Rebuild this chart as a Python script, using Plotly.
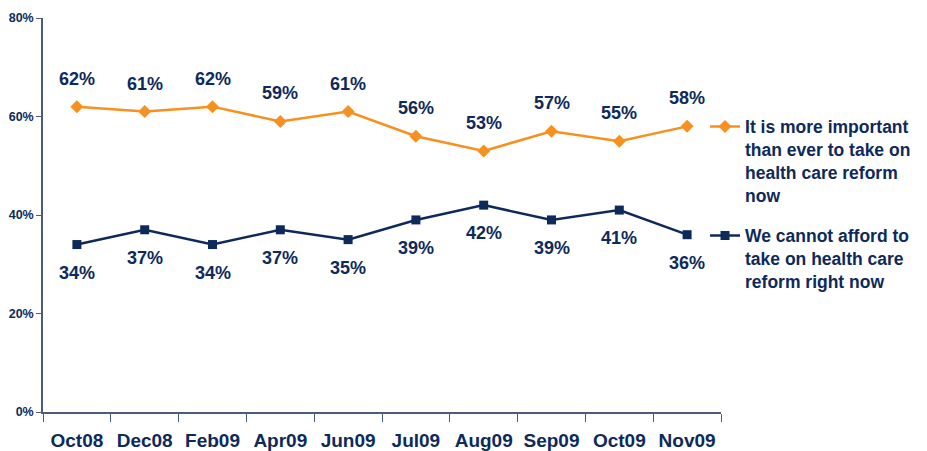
import plotly.graph_objects as go

months = ["Oct08", "Dec08", "Feb09", "Apr09", "Jun09", "Jul09", "Aug09", "Sep09", "Oct09", "Nov09"]
important = [62, 61, 62, 59, 61, 56, 53, 57, 55, 58]
cannot_afford = [34, 37, 34, 37, 35, 39, 42, 39, 41, 36]
y_ticks = [0, 20, 40, 60, 80]
y_tick_labels = ["0%", "20%", "40%", "60%", "80%"]
name_important = "It is more important<br>than ever to take on<br>health care reform<br>now"
name_cannot = "We cannot afford to<br>take on health care<br>reform right now"

ORANGE = "#F7901E"
NAVY = "#0D2A5B"
FONT = "Liberation Sans, Arial, sans-serif"

fig = go.Figure()
fig.add_trace(go.Scatter(
    x=months, y=important, mode="lines+markers", name=f"<b>{name_important}</b>",
    legendgroup="a",
    line=dict(color=ORANGE, width=2.5),
    marker=dict(symbol="diamond", size=10, color=ORANGE),
))
fig.add_trace(go.Scatter(
    x=months, y=cannot_afford, mode="lines+markers", name=f"<b>{name_cannot}</b>",
    legendgroup="b",
    line=dict(color=NAVY, width=2.5),
    marker=dict(symbol="square", size=9, color=NAVY),
))

annots = []
for m, v in zip(months, important):
    annots.append(dict(x=m, y=v, text=f"<b>{v}%</b>", showarrow=False, yshift=28,
                       font=dict(size=18, color=NAVY, family=FONT)))
for m, v in zip(months, cannot_afford):
    annots.append(dict(x=m, y=v, text=f"<b>{v}%</b>", showarrow=False, yshift=-28,
                       font=dict(size=18, color=NAVY, family=FONT)))

fig.update_layout(
    width=927, height=451,
    margin=dict(l=43, r=205, t=18, b=39),
    paper_bgcolor="white", plot_bgcolor="white",
    font=dict(family=FONT, color=NAVY),
    annotations=annots,
    showlegend=True,
    legend=dict(
        x=0.975, y=0.77, xanchor="left", yanchor="top",
        font=dict(size=17.5, color=NAVY, family=FONT),
        valign="top", tracegroupgap=15, itemwidth=30,
        bgcolor="rgba(0,0,0,0)",
    ),
    xaxis=dict(
        type="category", categoryorder="array", categoryarray=months,
        showline=True, linecolor="#4D5C78", linewidth=1.5,
        ticks="outside", tickson="boundaries", ticklen=8, tickcolor="#4D5C78",
        tickfont=dict(size=19, color=NAVY, family=FONT),
        tickprefix="<b>", ticksuffix="</b>",
        ticklabelstandoff=10, automargin=False,
        showgrid=False, range=[-0.5, 9.5],
    ),
    yaxis=dict(
        range=[0, 80], tickvals=y_ticks, ticktext=[f"<b>{t}</b>" for t in y_tick_labels],
        showline=True, linecolor="#4D5C78", linewidth=1.5,
        ticks="outside", ticklen=5, tickcolor="#4D5C78",
        tickfont=dict(size=12.5, color=NAVY, family=FONT),
        automargin=False,
        showgrid=False, zeroline=False,
    ),
)

fig.write_html(
    "out.html",
    config={"displayModeBar": False},
    post_script="document.body.style.margin='0';document.body.style.overflow='hidden';",
)
